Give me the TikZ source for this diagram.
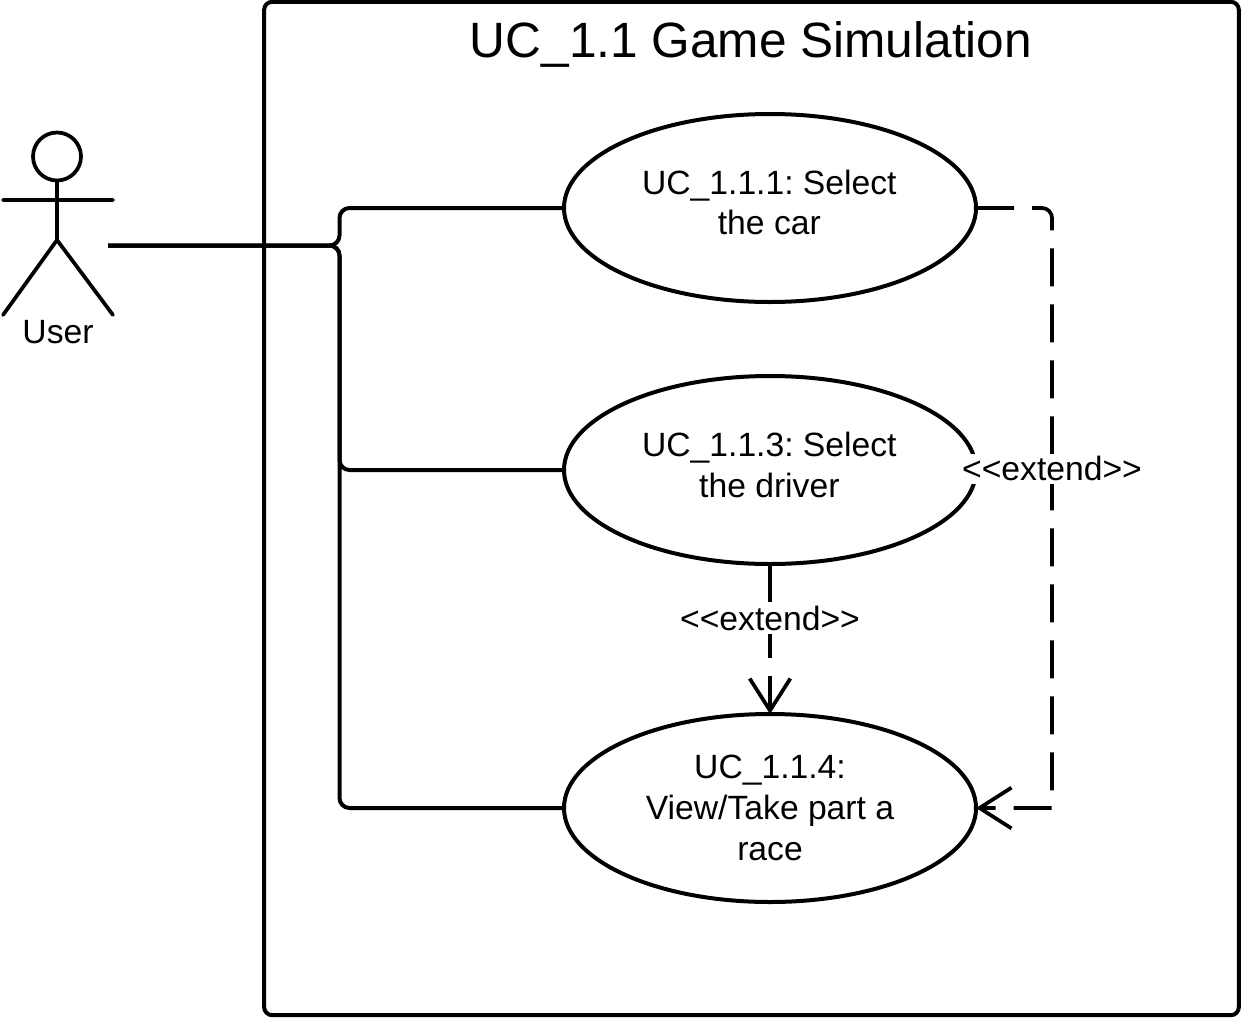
\documentclass[tikz,border=0pt]{standalone}
\usepackage{fontspec}
\setmainfont{Liberation Sans}
\usetikzlibrary{arrows.meta,shapes.geometric}
\tikzset{
  usecase/.style={draw,ellipse,line width=3pt,minimum width=309pt,minimum height=141pt,inner sep=0pt,outer sep=0pt,align=center,font=\uctext},
  assoc/.style={line width=3pt,rounded corners=7.5pt},
  ext/.style={line width=2.8pt,dash pattern=on 28.5pt off 13.5pt,-{Straight Barb[length=24pt,width=30.5pt,line width=2.8pt]}},
  extlabel/.style={fill=white,inner xsep=0pt,inner ysep=0pt,minimum height=22.5pt,font=\uctext},
  actorline/.style={line width=2.8pt,line cap=round}
}
\newcommand{\uctext}{\frenchspacing\fontsize{25.25pt}{30.6pt}\selectfont}
\begin{document}
\begin{tikzpicture}[x=0.75pt,y=-0.75pt]
\useasboundingbox (0,0) rectangle (1241,1017);
\node[draw,line width=3pt,rounded corners=6pt,minimum width=731pt,minimum height=760pt,inner sep=0pt,outer sep=0pt] (frame) at (751.5,508.5) {};
\node[font=\fontsize{37.2pt}{42pt}\selectfont,inner sep=0pt] (title) at (751,44) {UC\_1.1 Game Simulation};
% actor
\node[draw,circle,line width=2.8pt,minimum size=36pt,inner sep=0pt,outer sep=0pt] (head) at (57,156.5) {};
\coordinate (hip) at (57,240);
\coordinate (armL) at (3,200);
\coordinate (armR) at (113,200);
\coordinate (legL) at (3,315);
\coordinate (legR) at (113,315);
\draw[actorline] (head.south) -- (hip) (armL) -- (armR) (legL) -- (hip) -- (legR);
\node[font=\uctext,inner sep=0pt] (user) at (58,332) {User};
% use cases
\node[usecase] (e1) at (770,208) {\hspace*{-1pt}\raisebox{1.2pt}[\height][\depth]{\begin{tabular}{@{}c@{}}UC\_1.1.1: Select\\the car\end{tabular}}};
\node[usecase] (e2) at (770,470) {\hspace*{-1pt}\raisebox{0.9pt}[\height][\depth]{\begin{tabular}{@{}c@{}}UC\_1.1.3: Select\\the driver\end{tabular}}};
\node[usecase] (e3) at (770,808) {UC\_1.1.4:\\View/Take part a\\race};
% associations
\coordinate (ustart) at (108,245.5);
\coordinate (j) at (339.5,245.5);
\draw[assoc] (ustart) -- (j) |- (e1.west);
\draw[assoc] (ustart) -- (j) |- (e2.west);
\draw[assoc] (ustart) -- (j) |- (e3.west);
% extends
\coordinate (d) at (1052,300);
\draw[ext,rounded corners=7.5pt] (e1.east) -| (d) [sharp corners] |- (e3.east);
\draw[ext] (e2.south) -- (e3.north);
\node[extlabel] (l1) at (1052,468.5) {<{}<extend>{}>};
\node[extlabel] (l2) at (770,618.5) {<{}<extend>{}>};
\end{tikzpicture}
\end{document}
